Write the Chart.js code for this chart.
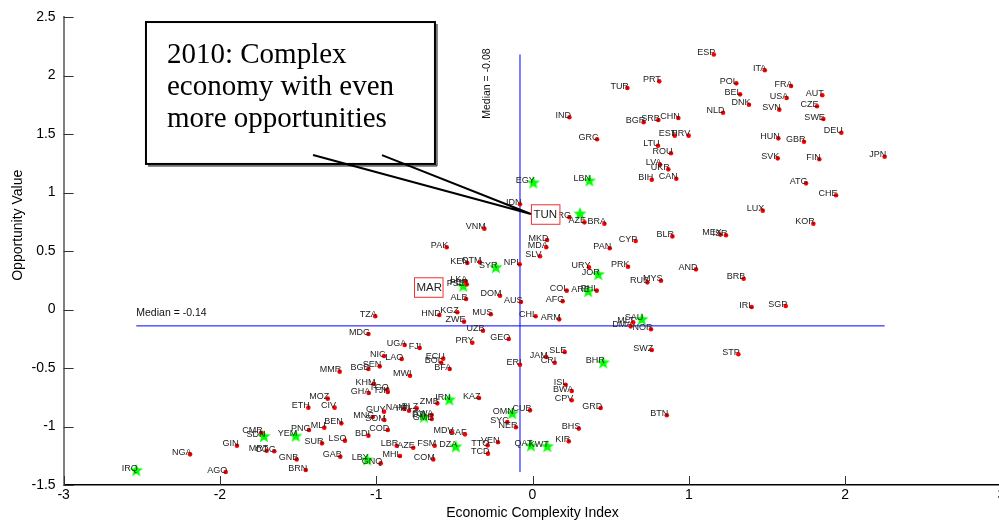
<!DOCTYPE html>
<html><head><meta charset="utf-8">
<script src="https://cdn.jsdelivr.net/npm/chart.js@4/dist/chart.umd.min.js"></script>
<style>
html,body{margin:0;padding:0;background:#fff;overflow:hidden;}
#wrap{position:relative;width:1010px;height:525px;}
</style></head><body>
<div id="wrap"><canvas id="c" width="1010" height="525"></canvas></div>
<script>
// ---------- DATA ----------
const codes = ['ESP','ITA','PRT','POL','FRA','TUR','BEL','USA','AUT','DNK','SVN','CZE','NLD','IND','SWE','BGR','SRB','CHN','DEU','EST','HRV','GRC','HUN','GBR','LTU','ROU','SVK','FIN','JPN','LVA','UKR','BIH','CAN','ATG','CHE','LUX','IDN','ARG','AZE','BRA','KOR','VNM','MKD','MDA','CYP','BLR','MEX','ISR','PAK','PAN','SLV','KEN','GTM','NPL','URY','PRK','AND','LKA','PER','RUS','MYS','BRB','COL','PHL','ALB','DOM','AUS','AFG','IRL','SGP','TZA','HND','KGZ','MUS','CHL','ARM','MLT','DMA','NOR','ZWE','UZB','MDG','UGA','FJI','PRY','GEO','NIC','LAO','ECU','BOL','BFA','BGD','SEN','MMR','MWI','ERI','JAM','SLE','CRI','SWZ','STP','KHM','TGO','GHA','TJK','ZMB','KAZ','MOZ','ETH','CIV','GUY','HTI','NAM','BLZ','RWA','GMB','SOM','MNG','BEN','MLI','PNG','COD','BDI','LSO','SUR','MDV','CAF','SYC','NER','CUB','ISL','BWA','CPV','GRD','BTN','BHS','KIR','LBR','AZE','FSM','VEN','TTO','TCD','GAB','GNQ','MHL','COM','BRN','NGA','AGO','GIN','CMR','MRT','COG','GNB'];
const eci = [1.16,1.486,0.811,1.304,1.654,0.607,1.328,1.626,1.854,1.385,1.579,1.82,1.219,0.236,1.861,0.711,0.805,0.933,1.976,0.91,0.999,0.413,1.573,1.737,0.803,0.886,1.569,1.835,2.253,0.816,0.869,0.763,0.92,1.75,1.942,1.473,-0.08,0.236,0.332,0.46,1.797,-0.308,0.093,0.088,0.66,0.895,1.202,1.238,-0.549,0.494,0.048,-0.417,-0.336,-0.082,0.361,0.611,1.046,-0.427,-0.421,0.735,0.822,1.351,0.219,0.411,-0.425,-0.208,-0.074,0.193,1.402,1.62,-1.006,-0.596,-0.481,-0.267,0.02,0.171,0.644,0.628,0.758,-0.438,-0.317,-1.05,-0.818,-0.722,-0.385,-0.152,-0.95,-0.837,-0.571,-0.584,-0.53,-1.05,-0.978,-1.234,-0.784,-0.08,0.088,0.206,0.142,0.763,1.317,-1.014,-0.929,-1.048,-0.926,-0.609,-0.342,-1.31,-1.434,-1.266,-0.95,-0.79,-0.82,-0.741,-0.645,-0.645,-0.948,-1.022,-1.223,-1.332,-1.43,-0.926,-1.05,-1.2,-1.347,-0.515,-0.432,-0.161,-0.106,-0.016,0.212,0.251,0.251,0.436,0.859,0.296,0.232,-0.869,-0.763,-0.626,-0.221,-0.287,-0.285,-1.23,-0.971,-0.848,-0.635,-1.451,-2.191,-1.963,-1.891,-1.735,-1.701,-1.652,-1.509];
const opp = [2.18,2.045,1.95,1.933,1.91,1.893,1.839,1.808,1.831,1.75,1.708,1.737,1.682,1.643,1.628,1.6,1.62,1.637,1.511,1.486,1.486,1.455,1.463,1.434,1.40,1.335,1.292,1.284,1.306,1.238,1.198,1.109,1.118,1.078,0.976,0.845,0.899,0.788,0.745,0.733,0.733,0.691,0.594,0.532,0.585,0.625,0.64,0.634,0.532,0.523,0.455,0.397,0.403,0.386,0.361,0.366,0.343,0.238,0.215,0.232,0.246,0.263,0.161,0.161,0.09,0.118,0.064,0.07,0.021,0.03,-0.058,-0.047,-0.024,-0.041,-0.058,-0.084,-0.109,-0.144,-0.169,-0.104,-0.181,-0.209,-0.303,-0.329,-0.284,-0.252,-0.397,-0.423,-0.42,-0.455,-0.509,-0.509,-0.486,-0.531,-0.566,-0.472,-0.406,-0.363,-0.455,-0.346,-0.383,-0.637,-0.685,-0.714,-0.705,-0.802,-0.756,-0.762,-0.839,-0.839,-0.873,-0.865,-0.85,-0.845,-0.902,-0.936,-0.944,-0.919,-0.973,-1.01,-1.03,-1.03,-1.078,-1.121,-1.144,-1.05,-1.067,-0.962,-1.007,-0.862,-0.643,-0.697,-0.776,-0.842,-0.904,-1.018,-1.127,-1.164,-1.181,-1.164,-1.135,-1.161,-1.232,-1.258,-1.315,-1.252,-1.281,-1.372,-1.238,-1.389,-1.164,-1.053,-1.207,-1.212,-1.281];

const arabCodes = ['EGY','LBN','','SYR','PSE','JOR','ARE','SAU','BHR','IRN','OMN','DJI','DZA','QAT','KWT','LBY','SDN','YEM','IRQ'];
const arabEci = [0.005,0.364,0.304,-0.234,-0.443,0.421,0.357,0.699,0.453,-0.532,-0.129,-0.694,-0.491,-0.01,0.095,-1.057,-1.718,-1.515,-2.535];
const arabOpp = [1.087,1.104,0.822,0.363,0.203,0.303,0.158,-0.081,-0.451,-0.768,-0.885,-0.916,-1.169,-1.161,-1.167,-1.281,-1.081,-1.078,-1.372];

const boxCodes = ['TUN','MAR'];
const boxEci = [-0.01,-0.758];
const boxOpp = [0.816,0.192];

const medianEci = -0.08;
const medianOpp = -0.14;

const xTickValues = [-3,-2,-1,0,1,2,3];
const yTickValues = [-1.5,-1,-0.5,0,0.5,1,1.5,2,2.5];

const calloutLines = ['2010: Complex','economy with even','more opportunities'];

// ---------- helpers ----------
const SANS = '"Liberation Sans", Arial, Helvetica, sans-serif';
Chart.defaults.font.family = SANS;

function makeStar(R, color){
  const s = Math.ceil(R*2+2);
  const c = document.createElement('canvas'); c.width = s; c.height = s;
  const g = c.getContext('2d');
  const cx = s/2, cy = s/2 + R*0.09, r = R*0.42;
  g.beginPath();
  for (let k=0;k<10;k++){
    const ang = -Math.PI/2 + k*Math.PI/5;
    const rr = k%2===0 ? R : r;
    const px = cx + rr*Math.cos(ang), py = cy + rr*Math.sin(ang);
    if(k===0) g.moveTo(px,py); else g.lineTo(px,py);
  }
  g.closePath();
  g.fillStyle = color; g.fill();
  return c;
}
const starImg = makeStar(7,'#00ff00');

const allX = eci.concat(arabEci);
const allY = opp.concat(arabOpp);
const minX = Math.min(...allX), maxX = Math.max(...allX);
const minY = Math.min(...allY), maxY = Math.max(...allY);

const redPts = codes.map((c,i)=>({x:eci[i], y:opp[i]}));
const starPts = arabCodes.map((c,i)=>({x:arabEci[i], y:arabOpp[i]}));
const boxPts = boxCodes.map((c,i)=>({x:boxEci[i], y:boxOpp[i]}));

// ---------- plugins ----------
const decor = {
  id:'decor',
  afterDatasetsDraw(chart){
    const ctx = chart.ctx, xs = chart.scales.x, ys = chart.scales.y, ca = chart.chartArea;
    ctx.save();
    // inward ticks
    ctx.strokeStyle = '#333'; ctx.lineWidth = 1;
    xTickValues.forEach(v=>{
      const px = Math.round(xs.getPixelForValue(v))+0.5;
      ctx.beginPath(); ctx.moveTo(px, ca.bottom); ctx.lineTo(px, ca.bottom-9); ctx.stroke();
    });
    yTickValues.forEach(v=>{
      const py = Math.round(ys.getPixelForValue(v))+0.5;
      ctx.beginPath(); ctx.moveTo(ca.left, py); ctx.lineTo(ca.left+10, py); ctx.stroke();
    });
    // y axis title
    ctx.save();
    ctx.fillStyle = '#000';
    ctx.font = '14px ' + SANS;
    ctx.translate(18, ys.getPixelForValue(0.72));
    ctx.rotate(-Math.PI/2);
    ctx.textAlign = 'center'; ctx.textBaseline = 'middle';
    ctx.fillText('Opportunity Value', 0, 0);
    ctx.restore();
    // country labels
    ctx.font = '9px ' + SANS;
    ctx.fillStyle = '#222';
    ctx.textAlign = 'right'; ctx.textBaseline = 'middle';
    chart.data.datasets.forEach((ds,di)=>{
      if(!ds.labelsList) return;
      const meta = chart.getDatasetMeta(di);
      meta.data.forEach((pt,i)=>{
        const t = ds.labelsList[i];
        if(t) ctx.fillText(t, pt.x+1.5, pt.y-1.8);
      });
    });
    // median labels
    ctx.fillStyle = '#111';
    ctx.font = '10.5px ' + SANS;
    ctx.textAlign = 'left'; ctx.textBaseline = 'middle';
    ctx.fillText('Median = ' + medianOpp.toFixed(2), xs.getPixelForValue(minX), ys.getPixelForValue(medianOpp) - 13);
    ctx.save();
    ctx.translate(xs.getPixelForValue(medianEci) - 33, ys.getPixelForValue(maxY) - 6);
    ctx.rotate(-Math.PI/2);
    ctx.textAlign = 'right';
    ctx.fillText('Median = ' + medianEci.toFixed(2), 0, 0);
    ctx.restore();
    // highlighted boxes
    const bmeta = chart.getDatasetMeta(2);
    ctx.font = '11.5px ' + SANS;
    bmeta.data.forEach((pt,i)=>{
      const w = 28.5, h = 19.5;
      ctx.fillStyle = '#fff';
      ctx.fillRect(pt.x, pt.y - h/2, w, h);
      ctx.strokeStyle = '#f03030'; ctx.lineWidth = 1;
      ctx.strokeRect(pt.x+0.5, pt.y - h/2 + 0.5, w, h);
      ctx.fillStyle = '#222'; ctx.textAlign = 'left'; ctx.textBaseline = 'middle';
      ctx.fillText(boxCodes[i], pt.x + 2.5, pt.y + 0.5);
    });
    // callout
    const bx1 = xs.getPixelForValue(-2.473), bx2 = xs.getPixelForValue(-0.624);
    const by1 = ys.getPixelForValue(2.457), by2 = ys.getPixelForValue(1.244);
    ctx.fillStyle = '#fff';
    ctx.fillRect(bx1, by1, bx2-bx1, by2-by1);
    ctx.strokeStyle = '#000'; ctx.lineWidth = 2;
    ctx.strokeRect(bx1, by1, bx2-bx1, by2-by1);
    ctx.lineWidth = 1; ctx.beginPath();
    ctx.moveTo(bx2+2, by1+2); ctx.lineTo(bx2+2, by2+2); ctx.lineTo(bx1+2, by2+2); ctx.stroke();
    const tip = bmeta.data[0];
    ctx.lineWidth = 2;
    ctx.beginPath();
    ctx.moveTo(xs.getPixelForValue(-1.404), ys.getPixelForValue(1.32));
    ctx.lineTo(tip.x, tip.y);
    ctx.lineTo(xs.getPixelForValue(-0.963), ys.getPixelForValue(1.32));
    ctx.stroke();
    ctx.fillStyle = '#000';
    ctx.font = '29px "Liberation Serif", "Times New Roman", serif';
    ctx.textAlign = 'left'; ctx.textBaseline = 'alphabetic';
    calloutLines.forEach((t,i)=>ctx.fillText(t, bx1 + 21, by1 + 41 + i*32));
    ctx.restore();
  }
};

new Chart(document.getElementById('c'), {
  type: 'scatter',
  data: {
    datasets: [
      { data: redPts, labelsList: codes, pointRadius: 2.3, pointBackgroundColor: '#ff0000', pointBorderWidth: 0, showLine: false },
      { data: starPts, labelsList: arabCodes, pointStyle: starImg, pointRadius: 7, showLine: false },
      { data: boxPts, pointRadius: 0, showLine: false },
      { type: 'line', data: [{x:minX, y:medianOpp},{x:maxX, y:medianOpp}], borderColor: '#0000ff', borderWidth: 1, pointRadius: 0, fill: false },
      { type: 'line', data: [{x:medianEci, y:minY},{x:medianEci, y:maxY}], borderColor: '#0000ff', borderWidth: 1, pointRadius: 0, fill: false }
    ]
  },
  options: {
    responsive: false, animation: false,
    events: [],
    layout: { padding: { left: 0, right: 8.6, top: 17, bottom: 0 } },
    plugins: { legend: { display: false }, tooltip: { enabled: false } },
    scales: {
      x: {
        type: 'linear', min: -3, max: 3,
        afterBuildTicks: s => { s.ticks = xTickValues.map(v=>({value:v})); },
        ticks: { color: '#000', font: { size: 14 }, padding: 2, maxRotation: 0, callback: v => String(v) },
        grid: { display: false, drawTicks: false },
        border: { display: true, color: '#000', width: 1.5 },
        title: { display: true, text: 'Economic Complexity Index', color: '#000', font: { size: 14 }, padding: { top: 0, bottom: 3.6 } },
        afterFit: s => { s.height = 40; }
      },
      y: {
        type: 'linear', min: -1.5, max: 2.5,
        afterBuildTicks: s => { s.ticks = yTickValues.map(v=>({value:v})); },
        ticks: { color: '#000', font: { size: 14 }, padding: 8, callback: v => String(v) },
        grid: { display: false, drawTicks: false },
        border: { display: true, color: '#808080', width: 2 },
        title: { display: false },
        afterFit: s => { s.width = 63.6; }
      }
    }
  },
  plugins: [decor]
});
</script>
</body></html>
